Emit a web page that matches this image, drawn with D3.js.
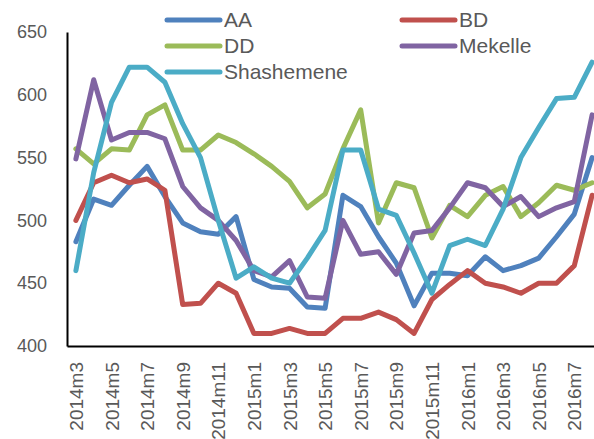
<!DOCTYPE html>
<html>
<head>
<meta charset="utf-8">
<script src="https://d3js.org/d3.v7.min.js"></script>
<style>
  body { margin: 0; background: #fff; }
  text { font-family: "Liberation Sans", Arial, sans-serif; fill: #595959; }
</style>
</head>
<body>
<div id="chart"></div>
<script>
// months 2014m3 .. 2016m8
var months = [];
for (var yr = 2014; yr <= 2016; yr++) {
  for (var m = 1; m <= 12; m++) {
    if (yr == 2014 && m < 3) continue;
    if (yr == 2016 && m > 8) continue;
    months.push(yr + "m" + m);
  }
}

var seriesNames = ["AA", "BD", "DD", "Mekelle", "Shashemene"];
var colors = ["#4F81BD", "#C0504D", "#9BBB59", "#8064A2", "#4BACC6"];

var aa = [483, 517, 512, 528, 543, 519, 498, 491, 489, 503, 453, 447, 446, 431, 430,
          520, 511, 487, 466, 432, 458, 458, 456, 471, 460, 464, 470, 487, 505, 550];
var bd = [500, 530, 536, 530, 533, 524, 433, 434, 450, 442, 410, 410, 414, 410, 410,
          422, 422, 427, 421, 410, 437, 449, 460, 450, 447, 442, 450, 450, 464, 520];
var dd = [557, 545, 557, 556, 584, 592, 556, 556, 568, 562, 553, 543, 531, 510, 521,
          557, 588, 498, 530, 526, 486, 512, 503, 520, 527, 503, 514, 528, 524, 530];
var mekelle = [549, 612, 564, 570, 570, 565, 527, 510, 500, 484, 460, 455, 468, 439, 438,
               500, 473, 475, 457, 490, 492, 510, 530, 526, 511, 519, 503, 510, 515, 584];
var shashemene = [460, 538, 594, 622, 622, 610, 577, 550, 500, 454, 463, 454, 450, 470, 492,
                  556, 556, 509, 504, 474, 442, 480, 485, 480, 509, 550, 574, 597, 598, 626];

var yTicks = [400, 450, 500, 550, 600, 650];

var allSeries = [aa, bd, dd, mekelle, shashemene];

var width = 594, height = 439;
var svg = d3.select("#chart").append("svg")
  .attr("width", width).attr("height", height);

var plotLeft = 67, plotTop = 32, plotBottom = 346;
var step = 17.8;

var x = d3.scalePoint()
  .domain(months)
  .range([plotLeft, plotLeft + step * months.length])
  .padding(0.5);

var y = d3.scaleLinear()
  .domain([400, 650])
  .range([plotBottom, plotTop]);

// y axis
var yAxis = svg.append("g")
  .attr("transform", "translate(" + plotLeft + ",0)")
  .call(d3.axisLeft(y).tickValues(yTicks).tickSize(0).tickPadding(20));
yAxis.select(".domain").attr("stroke", "#000").attr("stroke-width", 2);
yAxis.selectAll("text")
  .style("font-size", "18px")
  .style("font-family", "Liberation Sans, Arial, sans-serif")
  .attr("fill", "#595959");

// x axis
var xAxis = svg.append("g")
  .attr("transform", "translate(0," + plotBottom + ")")
  .call(d3.axisBottom(x)
    .tickValues(months.filter(function(d, i) { return i % 2 == 0; }))
    .tickSize(0));
xAxis.select(".domain").attr("stroke", "#000").attr("stroke-width", 2);
xAxis.selectAll("text")
  .style("font-size", "19px")
  .style("font-family", "Liberation Sans, Arial, sans-serif")
  .attr("fill", "#595959")
  .attr("text-anchor", "end")
  .attr("transform", "rotate(-90)")
  .attr("x", -16)
  .attr("y", 0)
  .attr("dy", "0.35em");

// lines
var line = d3.line()
  .x(function(d, i) { return x(months[i]); })
  .y(function(d) { return y(d); });

svg.append("g")
  .selectAll("path")
  .data(allSeries)
  .enter().append("path")
  .attr("d", line)
  .attr("fill", "none")
  .attr("stroke", function(d, i) { return colors[i]; })
  .attr("stroke-width", 5)
  .attr("stroke-linejoin", "round")
  .attr("stroke-linecap", "round");

// legend
var legendPos = [[167, 20], [402, 20], [167, 46], [402, 46], [167, 72]];
var legend = svg.append("g")
  .selectAll("g")
  .data(seriesNames)
  .enter().append("g")
  .attr("transform", function(d, i) { return "translate(" + legendPos[i][0] + "," + legendPos[i][1] + ")"; });

legend.append("line")
  .attr("x1", 0).attr("x2", 53)
  .attr("stroke", function(d, i) { return colors[i]; })
  .attr("stroke-width", 5)
  .attr("stroke-linecap", "round");

legend.append("text")
  .attr("x", 57)
  .attr("dy", "0.35em")
  .style("font-size", "21px")
  .text(function(d) { return d; });
</script>
</body>
</html>
